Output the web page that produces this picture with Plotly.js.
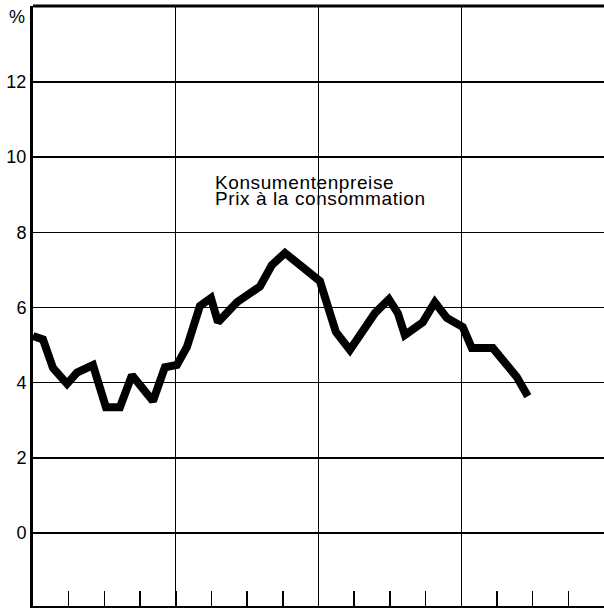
<!DOCTYPE html>
<html>
<head>
<meta charset="utf-8">
<script src="https://cdn.plot.ly/plotly-3.0.1.min.js"></script>
<style>
html, body { margin: 0; padding: 0; background: #fff; }
#chart { width: 604px; height: 608px; }
.series-label .annotation-text { letter-spacing: 0.6px; }
</style>
</head>
<body>
<div id="chart"></div>
<script>
// Month index (0 = start of first year shown) of each vertex
const monthIndex = [0, 0.84, 1.68, 2.86, 3.70, 5.04, 6.13, 7.31, 8.32, 10.08, 11.09, 12.10, 12.94,
  14.03, 14.96, 15.55, 17.14, 19.08, 20.08, 21.18, 24.12, 25.46, 26.64, 28.74, 29.92, 30.67,
  31.26, 32.77, 33.78, 34.79, 36.13, 36.89, 38.66, 39.66, 40.67, 41.60];
// Consumer prices, % change
const consumerPrices = [5.24, 5.15, 4.39, 3.97, 4.27, 4.47, 3.35, 3.35, 4.20, 3.51, 4.41, 4.47, 4.95,
  6.04, 6.25, 5.61, 6.14, 6.56, 7.13, 7.45, 6.70, 5.35, 4.87, 5.85, 6.22, 5.85,
  5.27, 5.61, 6.14, 5.72, 5.48, 4.92, 4.92, 4.55, 4.15, 3.64];
const yTickVals = [0, 2, 4, 6, 8, 10, 12];
const yTickText = ['0', '2', '4', '6', '8', '10', '12'];
const seriesLabelDe = 'Konsumentenpreise';
const seriesLabelFr = 'Prix à la consommation';
const unitLabel = '%';

const font = { family: 'Liberation Sans, Arial, sans-serif', color: '#000' };

const trace = {
  x: monthIndex,
  y: consumerPrices,
  type: 'scatter',
  mode: 'lines',
  line: { color: '#000', width: 8, shape: 'linear' },
  hoverinfo: 'skip'
};

const layout = {
  width: 604,
  height: 608,
  margin: { l: 33, r: 0, t: 6, b: 2, pad: 0 },
  paper_bgcolor: '#fff',
  plot_bgcolor: '#fff',
  showlegend: false,
  font: Object.assign({ size: 18 }, font),
  xaxis: {
    range: [0, 48],
    tick0: 0,
    dtick: 12,
    showgrid: true,
    gridcolor: '#000',
    gridwidth: 1.3,
    zeroline: false,
    showline: true,
    linecolor: '#000',
    linewidth: 2,
    ticks: 'inside',
    ticklen: 15,
    tickwidth: 1.5,
    tickcolor: '#000',
    showticklabels: false,
    minor: { dtick: 3, tick0: 0, ticks: 'inside', ticklen: 15, tickwidth: 1.5, tickcolor: '#000', showgrid: false }
  },
  yaxis: {
    range: [-1.94, 14.02],
    tickmode: 'array',
    tickvals: yTickVals,
    ticktext: yTickText,
    showgrid: true,
    gridcolor: '#000',
    gridwidth: 1.3,
    zeroline: false,
    showline: true,
    linecolor: '#000',
    linewidth: 3,
    ticks: '',
    tickfont: Object.assign({ size: 18 }, font)
  },
  shapes: [
    { type: 'line', xref: 'paper', yref: 'paper', x0: 0, x1: 1, y0: 1, y1: 1,
      line: { color: '#000', width: 3 } }
  ],
  annotations: [
    { text: unitLabel, xref: 'paper', yref: 'y', x: 0, y: 13.72, xanchor: 'right', yanchor: 'middle',
      xshift: -6, showarrow: false, font: Object.assign({ size: 18 }, font) },
    { text: seriesLabelDe + '<br>' + seriesLabelFr, xref: 'x', yref: 'y', x: 15.1, y: 9.66,
      xanchor: 'left', yanchor: 'top', align: 'left',
      showarrow: false, font: Object.assign({ size: 19 }, font) }
  ]
};

Plotly.newPlot('chart', [trace], layout, { staticPlot: true, displayModeBar: false }).then(function () {
  // tighten the line spacing of the two-line series label to match the printed original
  const groups = document.querySelectorAll('.annotation');
  groups.forEach(function (g) {
    const lines = g.querySelectorAll('.annotation-text tspan.line');
    if (lines.length === 2) {
      g.classList.add('series-label');
      lines[1].setAttribute('dy', '0.84em');
    }
  });
});
</script>
</body>
</html>
